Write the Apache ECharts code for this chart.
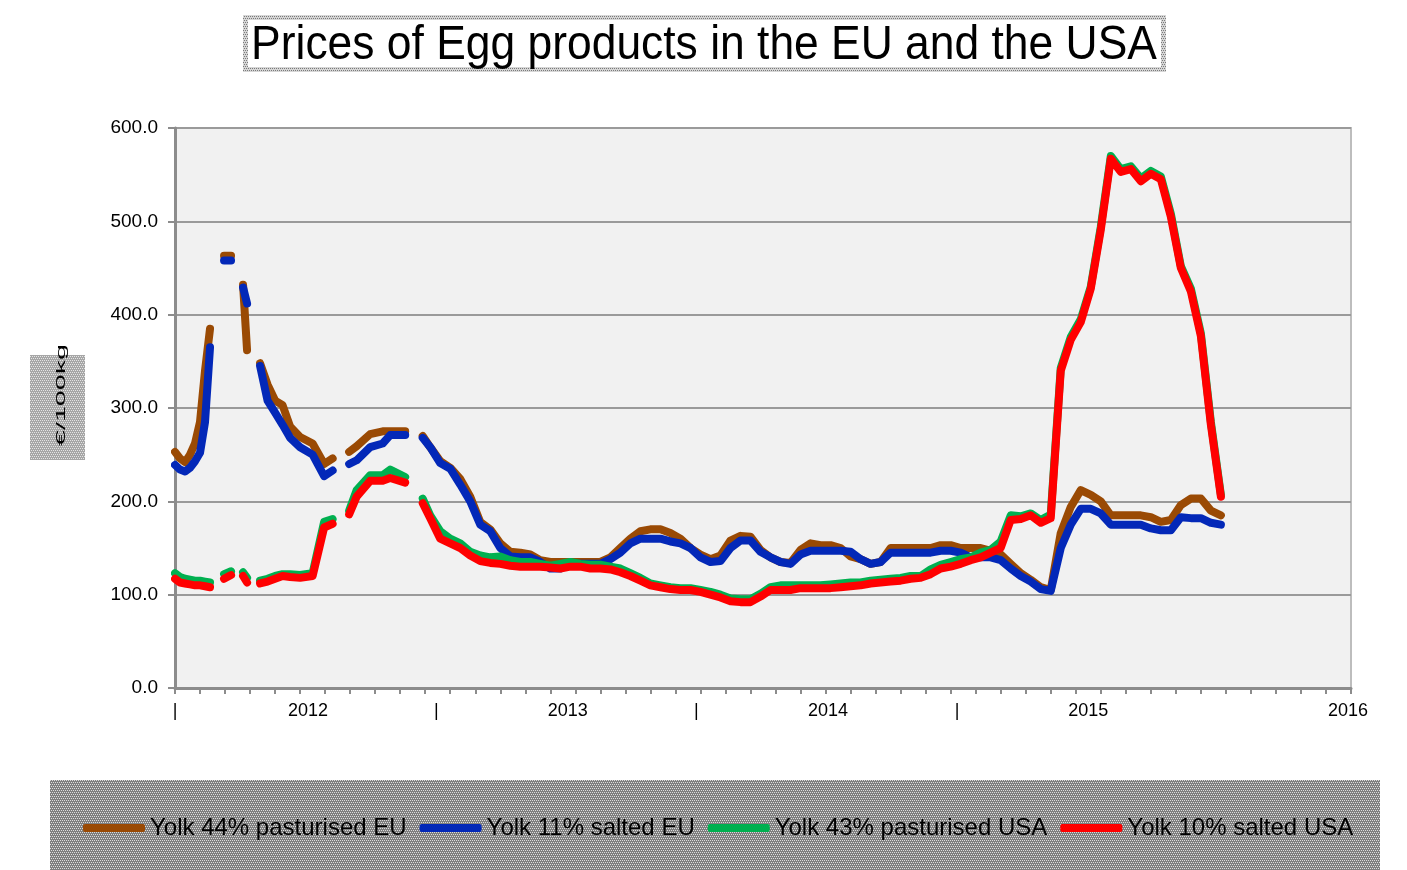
<!DOCTYPE html>
<html>
<head>
<meta charset="utf-8">
<script src="https://cdn.jsdelivr.net/npm/echarts@6/dist/echarts.min.js"></script>
<style>
  html, body { margin: 0; padding: 0; background: #fff; }
  #main { width: 1407px; height: 870px; }
</style>
</head>
<body>
<div id="main"></div>
<script>
// week positions (weekly data, ~4.5 years); null values = missing weeks
var weeks = [0, 1, 2, 3, 4, 5, 6, 7, 8, 9.8, 11.2, 12.5, 13.6, 14.4, 15.5,
  17, 18.5, 20, 21.5, 23, 25, 27.5, 29.8, 31.5, 33,
  34.8, 36.3, 39, 41.5, 43, 46, 47.7, 49.5,
  51, 53, 55, 57, 59, 61, 63, 65, 67, 69, 71, 73, 75, 77, 79, 81, 83, 85, 87, 89,
  91, 93, 95, 97, 99, 101, 103, 105, 107, 109, 111, 113, 115, 117, 119, 121, 123, 125, 127, 129,
  131, 133, 135, 137, 139, 141, 143, 145, 147, 149, 151, 153, 155, 157, 159, 161, 163, 165, 167, 169,
  171, 173, 175, 177, 179, 181, 183, 185, 187, 189, 191, 193, 195, 197, 199, 201, 203, 205, 207, 209];

var yolk44EU = [253, 246, 242, 250, 262, 285, 340, 385, null, 463, 463, null, 432, 362, null,
  348, 325, 308, 303, 280, 269, 262, 240, 246, null,
  253, 259, 272, 275, 275, 275, null, 270,
  258, 243, 236, 224, 205, 178, 170, 155, 146, 145, 143, 137, 135, 135, 135, 135, 135, 135, 140, 150,
  160, 168, 170, 170, 166, 160, 150, 143, 138, 142, 158, 163, 162, 148, 140, 135, 134, 148, 155, 153,
  153, 150, 141, 138, 133, 135, 150, 150, 150, 150, 150, 153, 153, 150, 150, 150, 147, 143, 133, 123,
  116, 108, 105, 166, 194, 212, 207, 200, 185, 185, 185, 185, 183, 178, 180, 196, 203, 203, 190, 185];

var yolk11EU = [239, 234, 232, 236, 243, 252, 285, 365, null, 458, 458, null, 429, 412, null,
  345, 308, 295, 282, 268, 258, 250, 227, 233, null,
  240, 244, 258, 262, 271, 271, null, 268,
  258, 241, 235, 218, 200, 175, 168, 150, 141, 140, 140, 135, 128, 128, 133, 133, 133, 133, 138, 145,
  155, 160, 160, 160, 157, 155, 150, 140, 135, 136, 150, 158, 158, 146, 140, 135, 133, 143, 147, 147,
  147, 147, 146, 138, 133, 135, 145, 145, 145, 145, 145, 147, 147, 145, 140, 140, 140, 137, 128, 120,
  114, 106, 104, 150, 175, 192, 192, 187, 175, 175, 175, 175, 171, 169, 169, 183, 182, 182, 177, 175];

var yolk43USA = [123, 119, 117, 116, 115, 115, 114, 113, null, 122, 125, null, 124, 118, null,
  115, 117, 120, 122, 122, 121, 123, 178, 181, null,
  190, 212, 228, 228, 234, 226, null, 203,
  185, 168, 160, 155, 146, 142, 140, 141, 137, 135, 135, 133, 131, 133, 135, 133, 132, 132, 130, 128,
  123, 118, 112, 110, 108, 107, 107, 105, 103, 100, 96, 95, 95, 101, 108, 110, 110, 110, 110, 110,
  111, 112, 113, 113, 115, 116, 117, 118, 120, 120, 127, 132, 135, 138, 140, 145, 148, 157, 185, 184,
  187, 180, 186, 343, 376, 395, 430, 494, 570, 556, 559, 546, 554, 548, 508, 452, 428, 380, 285, 207];

var yolk10USA = [117, 113, 112, 111, 110, 110, 109, 108, null, 117, 121, null, 120, 113, null,
  112, 114, 117, 120, 119, 118, 120, 172, 176, null,
  186, 205, 222, 222, 225, 220, null, 198,
  182, 160, 155, 150, 142, 136, 134, 133, 131, 130, 130, 130, 129, 128, 130, 130, 128, 128, 127, 124,
  120, 115, 110, 108, 106, 105, 105, 103, 100, 97, 93, 92, 92, 98, 105, 105, 105, 107, 107, 107,
  107, 108, 109, 110, 112, 113, 114, 115, 117, 118, 122, 128, 130, 133, 137, 140, 145, 150, 180, 181,
  185, 177, 182, 340, 373, 392, 428, 491, 567, 553, 556, 543, 551, 545, 505, 450, 425, 377, 282, 205];

var seriesNames = ['Yolk 44% pasturised EU', 'Yolk 11% salted EU', 'Yolk 43% pasturised USA', 'Yolk 10% salted USA'];
var seriesColors = ['#9a4a04', '#0328b8', '#00b050', '#ff0000'];

// x axis: minor ticks every 5 weeks, year labels and "|" separators
var xTickPos = [];
for (var t = 0; t <= 235; t += 5) xTickPos.push(t);
var xLabelPos = [0, 26.6, 52.2, 78.5, 104.2, 130.5, 156.3, 182.5, 234.4];
var xLabelText = ['|', '2012', '|', '2013', '|', '2014', '|', '2015', '2016'];

function pairs(values) {
  return weeks.map(function (w, i) { return [w, values[i]]; });
}

function dotPattern(bg, dot) {
  var c = document.createElement('canvas');
  c.width = 4; c.height = 4;
  var ctx = c.getContext('2d');
  ctx.fillStyle = bg;
  ctx.fillRect(0, 0, 4, 4);
  ctx.fillStyle = dot;
  ctx.fillRect(0, 0, 1, 1);
  ctx.fillRect(2, 0, 1, 1);
  ctx.fillRect(1, 2, 1, 1);
  ctx.fillRect(3, 2, 1, 1);
  return { image: c, repeat: 'repeat' };
}

var font = '"Liberation Sans", Arial, sans-serif';
var myChart = echarts.init(document.getElementById('main'));

var option = {
  backgroundColor: '#fff',
  animation: false,
  graphic: [
    // title box
    { type: 'rect', z: 0, shape: { x: 243, y: 15, width: 923, height: 57 },
      style: { fill: dotPattern('#d6d6d6', '#7a7a7a') } },
    { type: 'rect', z: 1, shape: { x: 248, y: 20, width: 913, height: 47 }, style: { fill: '#fff' } },
    { type: 'text', z: 2, x: 704, y: 46, scaleX: 0.925,
      style: { text: 'Prices of Egg products in the EU and the USA', font: '48px ' + font,
        fill: '#000', align: 'center', verticalAlign: 'middle' } },
    // y axis unit box
    { type: 'rect', z: 0, shape: { x: 30, y: 355, width: 55, height: 105 },
      style: { fill: dotPattern('#a6a6a6', '#e4e4e4') } },
    { type: 'text', z: 2, x: 61, y: 395, rotation: Math.PI / 2, scaleX: 2.2,
      style: { text: '€/100kg', font: '13px ' + font, fill: '#000', align: 'center', verticalAlign: 'middle' } },
    // legend box
    { type: 'rect', z: 0, shape: { x: 50, y: 780, width: 1330, height: 100 },
      style: { fill: dotPattern('#7e7e7e', '#dcdcdc') } }
  ],
  grid: {
    left: 175, right: 56, top: 128, bottom: 182,
    show: true, backgroundColor: '#f1f1f1', borderColor: '#bdbdbd', borderWidth: 2
  },
  legend: {
    left: 78, top: 811, z: 10,
    icon: 'roundRect', itemWidth: 62, itemHeight: 8, itemGap: 13,
    textStyle: { fontFamily: font, fontSize: 24, color: '#000' },
    data: seriesNames
  },
  xAxis: {
    type: 'value', min: 0, max: 235,
    axisLine: { show: true, onZero: false, lineStyle: { color: '#8c8c8c', width: 3 } },
    axisTick: { show: true, length: 6, customValues: xTickPos, lineStyle: { color: '#8c8c8c', width: 2 } },
    axisLabel: {
      customValues: xLabelPos, margin: 14, color: '#000', fontFamily: font, fontSize: 18,
      formatter: function (v) {
        for (var i = 0; i < xLabelPos.length; i++) {
          if (Math.abs(xLabelPos[i] - v) < 0.01) return xLabelText[i];
        }
        return '';
      }
    },
    splitLine: { show: false }
  },
  yAxis: {
    type: 'value', min: 0, max: 600, interval: 100,
    axisLine: { show: true, lineStyle: { color: '#8c8c8c', width: 3 } },
    axisTick: { show: true, length: 7, lineStyle: { color: '#8c8c8c', width: 2 } },
    axisLabel: {
      margin: 17, color: '#000', fontFamily: font, fontSize: 19,
      formatter: function (v) { return v.toFixed(1); }
    },
    splitLine: { lineStyle: { color: '#9a9a9a', width: 2 } }
  },
  series: [yolk44EU, yolk11EU, yolk43USA, yolk10USA].map(function (vals, i) {
    return {
      name: seriesNames[i],
      type: 'line',
      data: pairs(vals),
      showSymbol: false,
      connectNulls: false,
      color: seriesColors[i],
      lineStyle: { width: 8, cap: 'round', join: 'round', color: seriesColors[i] },
      z: 2 + i
    };
  })
};

myChart.setOption(option);
</script>
</body>
</html>
